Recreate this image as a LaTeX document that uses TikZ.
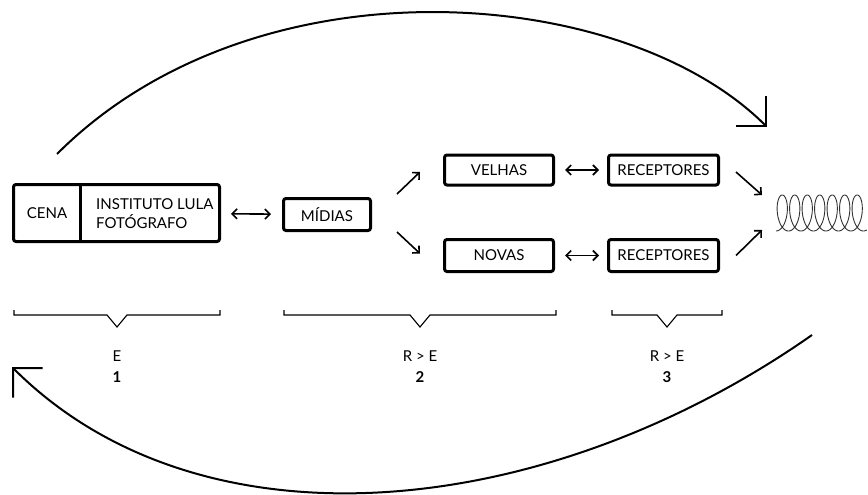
\documentclass[tikz,border=0pt]{standalone}
\usepackage{fontspec}
\setmainfont{Lato}
\usepackage{tikz}
\usetikzlibrary{arrows.meta,calc}

\tikzset{
  box/.style={draw, line width=3pt, rounded corners=2.5pt, inner sep=0pt,
              font=\fontsize{15}{18}\selectfont},
  label/.style={font=\fontsize{15}{19}\selectfont, inner sep=0pt},
  link/.style={line width=1.6pt,
               {Straight Barb[length=5pt,width=10pt]}-{Straight Barb[length=5pt,width=10pt]}},
  flow/.style={line width=1.6pt, -{Straight Barb[length=5pt,width=10pt]}},
  cycle/.style={line width=2pt, -{Straight Barb[length=21pt,width=42pt]}},
  brace/.style={line width=1.1pt},
}

\begin{document}
\begin{tikzpicture}[x=1pt, y=-1pt]
        \useasboundingbox (0,0) rectangle (868,495);

        % stage 1
        \node [box, minimum width=206pt, minimum height=57pt] (org) at (116.5,213) {};
        \coordinate (div) at (80,0);
        \draw [line width=3pt]  (div |- org.north) -- (div |- org.south);
        \node [label] (cena) at (47,213) {CENA};
        \node [label, align=left, anchor=west] (inst) at (96,214) {INSTITUTO LULA\\FOTÓGRAFO};

        % stage 2
        \node [box, minimum width=87pt,  minimum height=32pt] (midias) at (327,214.5) {MÍDIAS};
        \node [box, minimum width=109pt, minimum height=30pt] (velhas) at (499,170)   {VELHAS};
        \node [box, minimum width=109pt, minimum height=32pt] (novas)  at (499,255.5) {NOVAS};

        % stage 3
        \node [box, minimum width=110pt, minimum height=30pt] (recA) at (663.5,170)   {RECEPTORES};
        \node [box, minimum width=110pt, minimum height=32pt] (recB) at (663.5,255.5) {RECEPTORES};
        \coordinate (coil) at (775,213);

        % connectors
        \draw [link, shorten <=10pt, shorten >=11pt]  (org) -- (midias);
        \draw [flow]  ($(midias.north east)+(25,-3)$) -- ($(velhas.west)+(-23,2)$);
        \draw [flow]  ($(midias.south east)+(25,0)$)  -- ($(novas.west)+(-23,-2)$);
        \draw [link, shorten <=10pt, shorten >=8pt]   (velhas) -- (recA);
        \draw [link, shorten <=10pt, shorten >=8pt]   (novas) -- (recB);
        \draw [flow]  ($(recA.east)+(16,2)$) -- ($(coil)+(-13,-18)$);
        \draw [flow]  ($(recB.east)+(16,0)$) -- ($(coil)+(-13,17)$);

        % noise
        \draw [line width=0.9pt, black!80]
              plot [domain=0:2540, samples=500, smooth]
              ({776 + 0.0347*\x + 8*sin(\x)}, {213 + 18*cos(\x)});

        % braces
        \draw [brace]  (14,310)  -- (14,315)  -- (107,315) -- (117,327) -- (127,315) -- (220,315) -- (220,310);
        \draw [brace]  (284,310) -- (284,315) -- (410,315) -- (420,327) -- (430,315) -- (556,315) -- (556,310);
        \draw [brace]  (612,310) -- (612,315) -- (657,315) -- (667,327) -- (677,315) -- (722,315) -- (722,310);

        \node [label] (e1) at (117,356) {E};
        \node [label] (n1) at (117,377) {\textbf{1}};
        \node [label] (e2) at (420,356) {R > E};
        \node [label] (n2) at (420,377) {\textbf{2}};
        \node [label] (e3) at (667,356) {R > E};
        \node [label] (n3) at (667,377) {\textbf{3}};

        % feedback loops
        \coordinate (topA) at (57,154);
        \coordinate (topB) at (767,127);
        \coordinate (botA) at (812,335);
        \coordinate (botB) at (12,367);
        \draw [cycle]  (topA) .. controls (256,-45) and (624,-16) .. (topB);
        \draw [cycle]  (botA) .. controls (545,522) and (201,556) .. (botB);
\end{tikzpicture}
\end{document}
